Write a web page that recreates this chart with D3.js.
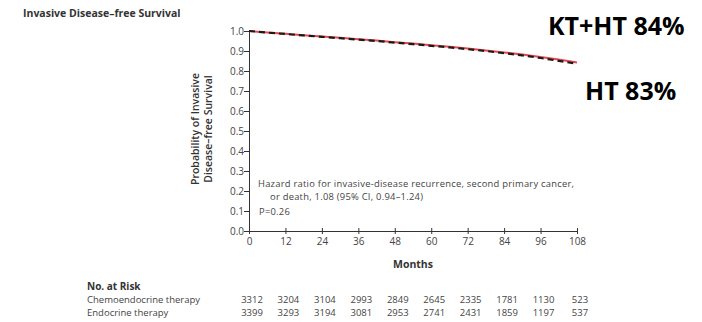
<!DOCTYPE html>
<html>
<head>
<meta charset="utf-8">
<script src="https://cdn.jsdelivr.net/npm/d3@7"></script>
<style>
  html, body { margin: 0; padding: 0; background: #fff; }
  svg { display: block; }
  text { font-family: "Open Sans", "Noto Sans", sans-serif; }
</style>
</head>
<body>
<svg id="chart" width="702" height="322"></svg>
<script>
// Kaplan–Meier estimates read at 6-month steps
const months = [0, 6, 12, 18, 24, 30, 36, 42, 48, 54, 60, 66, 72, 78, 84, 90, 96, 102, 108];
const chemoEndocrine = [1.0, 0.993, 0.986, 0.979, 0.973, 0.966, 0.959, 0.952, 0.944, 0.937, 0.929, 0.921, 0.912, 0.903, 0.893, 0.882, 0.870, 0.857, 0.843];
const endocrine      = [1.0, 0.992, 0.985, 0.978, 0.971, 0.964, 0.957, 0.950, 0.942, 0.934, 0.926, 0.918, 0.909, 0.900, 0.889, 0.878, 0.865, 0.851, 0.836];

const xTicks = [0, 12, 24, 36, 48, 60, 72, 84, 96, 108];
const yTicks = [0, 0.1, 0.2, 0.3, 0.4, 0.5, 0.6, 0.7, 0.8, 0.9, 1.0];

const riskGroups = ["Chemoendocrine therapy", "Endocrine therapy"];
const riskChemo = [3312, 3204, 3104, 2993, 2849, 2645, 2335, 1781, 1130, 523];
const riskEndo  = [3399, 3293, 3194, 3081, 2953, 2741, 2431, 1859, 1197, 537];

const svg = d3.select("#chart");
const x = d3.scaleLinear().domain([0, 108]).range([249, 577]);
const y = d3.scaleLinear().domain([0, 1]).range([231, 31]);

const ink = "#333";
const soft = "#444";

// Title
svg.append("text").attr("x", 23).attr("y", 17)
  .attr("font-size", 10.5).attr("font-weight", 700).attr("fill", ink)
  .text("Invasive Disease–free Survival");

// Y axis
const yAxis = svg.append("g").attr("transform", `translate(${x(0)},0)`)
  .call(d3.axisLeft(y).tickValues(yTicks).tickFormat(d3.format(".1f")).tickSize(5).tickSizeOuter(0));
yAxis.select(".domain").attr("stroke", ink).attr("stroke-width", 1);
yAxis.selectAll(".tick line").attr("stroke", ink);
yAxis.selectAll(".tick text").attr("font-size", 10).attr("fill", soft).attr("x", -5)
  .attr("font-family", "'Open Sans', sans-serif");

// X axis with ticks crossing the baseline
const xAxis = svg.append("g").attr("transform", `translate(0,${y(0)})`)
  .call(d3.axisBottom(x).tickValues(xTicks).tickSize(3).tickSizeOuter(0));
xAxis.select(".domain").attr("stroke", ink).attr("stroke-width", 1);
xAxis.selectAll(".tick line").attr("stroke", ink).attr("y1", -3).attr("y2", 3);
xAxis.selectAll(".tick text").attr("font-size", 10).attr("fill", soft).attr("y", 7)
  .attr("font-family", "'Open Sans', sans-serif");

// Axis titles
svg.append("text").attr("x", x(54)).attr("y", 268).attr("text-anchor", "middle")
  .attr("font-size", 10.5).attr("font-weight", 700).attr("fill", ink).text("Months");

const yTitle = svg.append("text")
  .attr("transform", "translate(199,129) rotate(-90)")
  .attr("text-anchor", "middle").attr("font-size", 10.5).attr("font-weight", 600).attr("fill", ink);
yTitle.append("tspan").attr("x", 0).attr("dy", 0).text("Probability of Invasive");
yTitle.append("tspan").attr("x", 0).attr("dy", 12.5).text("Disease–free Survival");

// Survival curves
const line = d3.line().x((d, i) => x(months[i])).y(d => y(d));
svg.append("path").datum(chemoEndocrine).attr("d", line)
  .attr("fill", "none").attr("stroke", "#e8474f").attr("stroke-width", 2);
svg.append("path").datum(endocrine).attr("d", line)
  .attr("fill", "none").attr("stroke", "#1a1a1a").attr("stroke-width", 2.2)
  .attr("stroke-dasharray", "6,4");

// Hazard ratio annotation
const note = svg.append("g").attr("font-size", 9.4).attr("letter-spacing", 0.25).attr("fill", soft);
note.append("text").attr("x", 258).attr("y", 186.5)
  .text("Hazard ratio for invasive-disease recurrence, second primary cancer,");
note.append("text").attr("x", 270).attr("y", 199.5)
  .text("or death, 1.08 (95% CI, 0.94–1.24)");
note.append("text").attr("x", 259).attr("y", 215).text("P=0.26");

// End-of-follow-up labels
svg.append("text").attr("x", 548).attr("y", 35)
  .attr("font-family", "'Liberation Sans', Arial, sans-serif")
  .attr("font-size", 25).attr("font-weight", 700).attr("fill", "#000").text("KT+HT 84%");
svg.append("text").attr("x", 585).attr("y", 100)
  .attr("font-family", "'Liberation Sans', Arial, sans-serif")
  .attr("font-size", 25).attr("font-weight", 700).attr("fill", "#000").text("HT 83%");

// Number at risk table
svg.append("text").attr("x", 87).attr("y", 290)
  .attr("font-size", 10).attr("font-weight", 700).attr("fill", ink).text("No. at Risk");
const rows = [riskChemo, riskEndo];
rows.forEach((vals, r) => {
  const ry = 303 + r * 13;
  svg.append("text").attr("x", 87).attr("y", ry)
    .attr("font-size", 9.5).attr("fill", soft).text(riskGroups[r]);
  svg.append("g").selectAll("text").data(vals).join("text")
    .attr("x", (d, i) => x(xTicks[i]) + 3).attr("y", ry)
    .attr("text-anchor", "middle").attr("font-size", 9.5).attr("fill", soft)
    .text(d => d);
});
</script>
</body>
</html>
